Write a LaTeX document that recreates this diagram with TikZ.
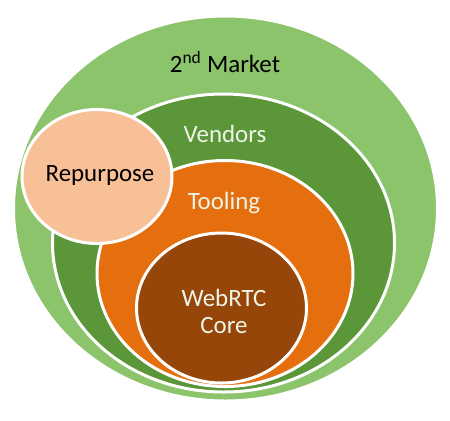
\documentclass[tikz,border=0pt]{standalone}
\usepackage{fontspec}
\setmainfont{Carlito}
\usetikzlibrary{shapes.geometric}
\definecolor{lightgreen}{HTML}{8CC46C}
\definecolor{darkgreen}{HTML}{5B9638}
\definecolor{orangefill}{HTML}{E56F0E}
\definecolor{brownfill}{HTML}{954608}
\definecolor{peach}{HTML}{F8C096}
\definecolor{lighttext}{HTML}{EEF5E8}
\tikzset{
  ring/.style={ellipse, draw=white, line width=3bp, inner sep=0pt},
  lbl/.style={font=\fontsize{25}{27}\selectfont, inner sep=0pt, align=center},
}
\begin{document}
\begin{tikzpicture}[x=1bp,y=-1bp]
\useasboundingbox[fill=white] (0,0) rectangle (450,420);
\node[ring, fill=lightgreen, line width=2bp, minimum width=423bp, minimum height=384bp] (market) at (225.5,208.5) {};
\node[ring, fill=darkgreen, minimum width=342bp, minimum height=298bp] (vendors) at (223.5,243) {};
\node[ring, fill=orangefill, minimum width=256bp, minimum height=226bp] (tooling) at (225,273.5) {};
\node[ring, fill=brownfill, minimum width=170bp, minimum height=150bp] (core) at (221.5,308) {};
\node[ring, fill=peach, minimum width=150bp, minimum height=134bp] (repurpose) at (97,176.5) {};
\node[lbl, text=black] (marketlbl) at (225,62) {2\textsuperscript{nd} Market};
\node[lbl, text=lighttext] (vendorslbl) at (225,134) {Vendors};
\node[lbl, text=black] (repurposelbl) at (100,176) {Repurpose};
\node[lbl, text=lighttext] (toolinglbl) at (224,203) {Tooling};
\node[lbl, text=lighttext, font=\fontsize{25}{27}\selectfont] (corelbl) at (224,311) {WebRTC\\Core};
\end{tikzpicture}
\end{document}
